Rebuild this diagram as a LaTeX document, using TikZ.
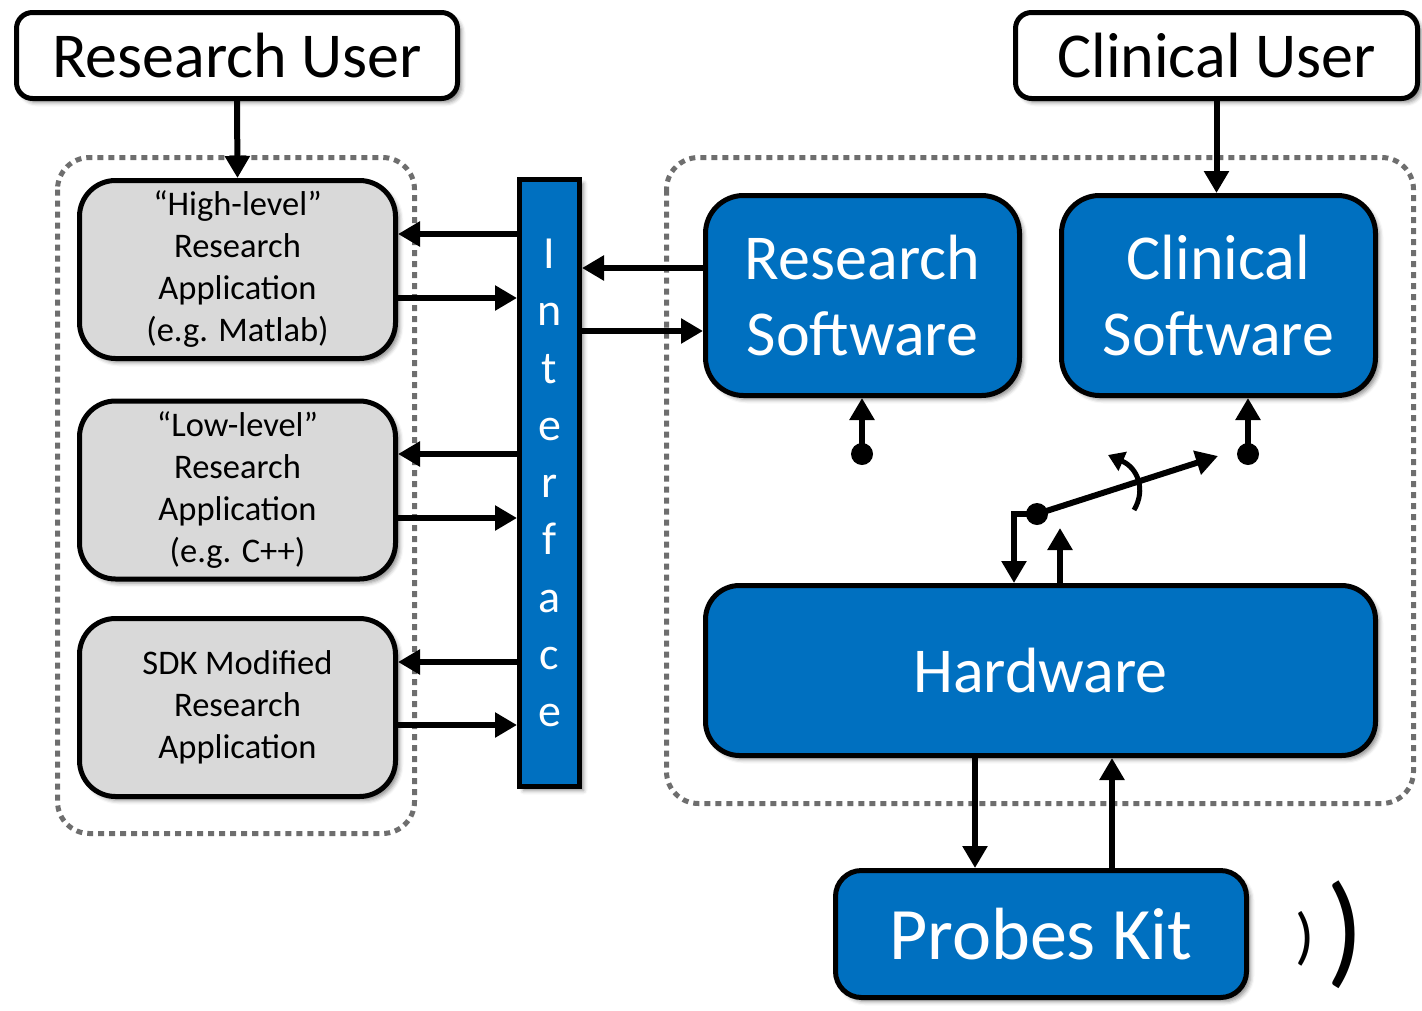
\documentclass[tikz,border=0pt]{standalone}
\usepackage{fontspec}
\setmainfont{Carlito}
\usetikzlibrary{arrows.meta,shadows.blur}
\definecolor{msblue}{HTML}{0070C0}
\definecolor{boxgray}{HTML}{D9D9D9}
\definecolor{dotgray}{HTML}{6E6E6E}
\begin{document}
\begin{tikzpicture}[x=1pt,y=-1pt,
  shadowed/.style={blur shadow={shadow xshift=4pt,shadow yshift=-4pt,shadow blur radius=4pt,shadow opacity=45}},
  userbox/.style={draw=black,line width=5pt,fill=white,rounded corners=16pt,shadowed,font=\fontsize{64}{66}\selectfont,inner sep=0pt},
  appbox/.style={draw=black,line width=5pt,fill=boxgray,rounded corners=36pt,shadowed,align=center,font=\fontsize{34.5}{42}\selectfont,inner sep=0pt,minimum width=316pt,minimum height=178pt},
  bluebox/.style={draw=black,line width=5pt,fill=msblue,rounded corners=38pt,shadowed,align=center,text=white,inner sep=0pt},
  container/.style={draw=dotgray,line width=5pt,dash pattern=on 6pt off 5pt,rounded corners=32pt},
  conn/.style={line width=6pt,-{Triangle[length=22pt,width=24pt]}},
  dot/.style={circle,fill=black,minimum size=22pt,inner sep=0pt},
]
\useasboundingbox (0,0) rectangle (1422,1010);

% containers
\draw[container] (57.5,157.5) rectangle (414.5,833.5);
\draw[container] (666.5,157.5) rectangle (1413.5,803.5);

% users
\node[userbox,minimum width=441pt,minimum height=86pt] (ru) at (237,55.5) {Research User};
\node[userbox,minimum width=402pt,minimum height=86pt] (cu) at (1216.5,55.5) {Clinical User};

% research applications
\node[appbox] (b1) at (237.5,269.5) {“High-level”\\Research\\Application\\(e.g. Matlab)};
\node[appbox] (b2) at (237.5,490) {“Low-level”\\Research\\Application\\(e.g. C++)};
\node[appbox] (b3) at (237.5,707.5) {SDK Modified\\Research\\Application};

% interface
\node[draw=black,line width=5pt,fill=msblue,shadowed,text=white,align=center,inner sep=0pt,
      minimum width=60pt,minimum height=607pt,font=\fontsize{46}{57.25}\selectfont] (iface) at (549.5,483)
      {I\\n\\t\\e\\r\\f\\a\\c\\e};

% software & hardware
\node[bluebox,minimum width=314pt,minimum height=200pt,font=\fontsize{64}{76}\selectfont] (rs) at (862.5,295.5) {Research\\Software};
\node[bluebox,minimum width=314pt,minimum height=200pt,font=\fontsize{64}{76}\selectfont] (cs) at (1218.5,295.5) {Clinical\\Software};
\node[bluebox,minimum width=670pt,minimum height=170pt,rounded corners=34pt,font=\fontsize{64}{76}\selectfont] (hw) at (1040.5,670.5) {Hardware};
\node[bluebox,minimum width=411pt,minimum height=127pt,rounded corners=26pt,font=\fontsize{74}{76}\selectfont] (pk) at (1041,934) {Probes Kit};

% waves
\node[inner sep=0pt,font=\fontsize{63}{63}\selectfont] (w1) at (1305,939) {)};
\node[inner sep=0pt,font=\fontsize{124}{124}\selectfont] (w2) at (1345,935) {)};

% user arrows
\draw[conn] (ru.south) -- (b1.north);
\draw[conn] (cu.south) -- (cu.south |- cs.north);

% app <-> interface
\draw[conn] (iface.west |- 0,234) -- (b1.east |- 0,234);
\draw[conn] (b1.east |- 0,298) -- (iface.west |- 0,298);
\draw[conn] (iface.west |- 0,454) -- (b2.east |- 0,454);
\draw[conn] (b2.east |- 0,518) -- (iface.west |- 0,518);
\draw[conn] (iface.west |- 0,662) -- (b3.east |- 0,662);
\draw[conn] (b3.east |- 0,725) -- (iface.west |- 0,725);

% interface <-> research software
\draw[conn] (rs.west |- 0,268) -- (iface.east |- 0,268);
\draw[conn] (iface.east |- 0,331) -- (rs.west |- 0,331);

% switch
\node[dot] (rsdot) at (862,454) {};
\node[dot] (csdot) at (1248,454) {};
\node[dot] (swdot) at (1037,514) {};
\draw[conn] (rsdot.center) -- (rsdot |- rs.south);
\draw[conn] (csdot.center) -- (csdot |- cs.south);
\coordinate (swtip) at (1218,456);
\draw[conn] (swdot.center) -- (swtip);
\draw[line width=5pt,-{Triangle[length=16pt,width=20pt]}] (1134,510) .. controls (1146,490) and (1138,468) .. (1108,455);
\coordinate (swbend) at (1014,514);
\draw[conn] (swdot.center) -- (swbend) -- (swbend |- hw.north);
\coordinate (hwup) at (1060,528);
\draw[conn] (hw.north -| hwup) -- (hwup);

% hardware <-> probes
\draw[conn] (hw.south -| 975,0) -- (pk.north -| 975,0);
\draw[conn] (pk.north -| 1112,0) -- (hw.south -| 1112,0);
\end{tikzpicture}
\end{document}
